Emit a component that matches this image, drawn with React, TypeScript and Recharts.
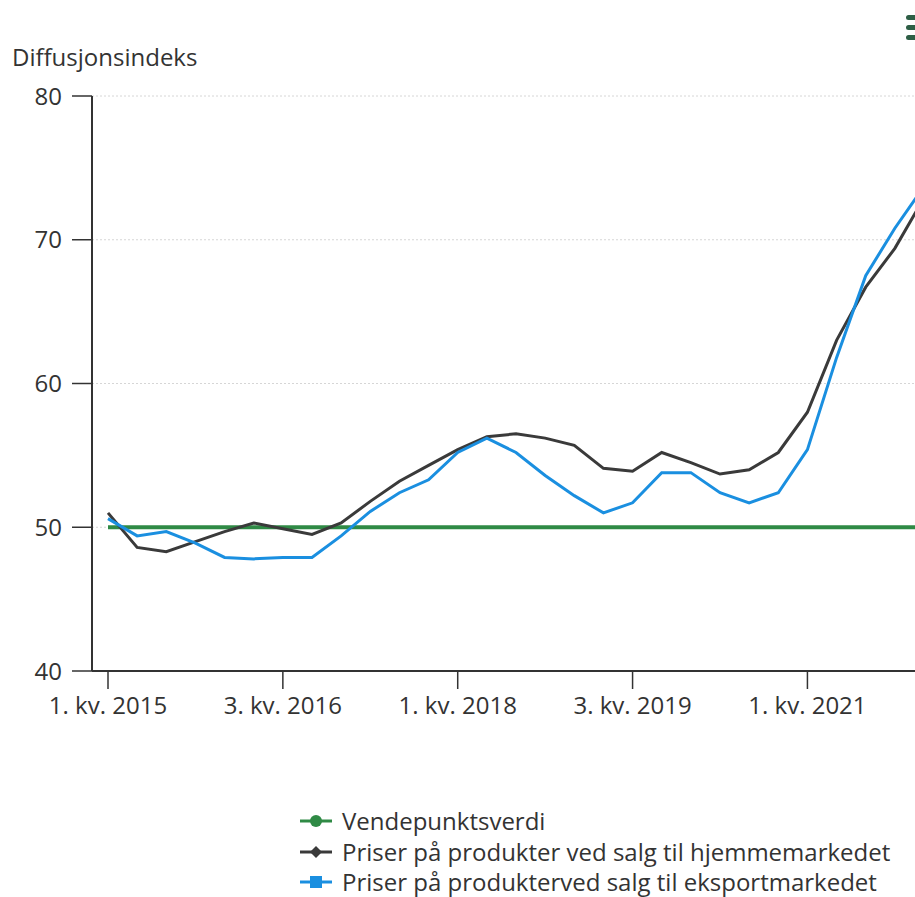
import { LineChart, Line, XAxis, YAxis, CartesianGrid, Legend } from 'recharts';

const quarters = [
  '1. kv. 2015', '2. kv. 2015', '3. kv. 2015', '4. kv. 2015',
  '1. kv. 2016', '2. kv. 2016', '3. kv. 2016', '4. kv. 2016',
  '1. kv. 2017', '2. kv. 2017', '3. kv. 2017', '4. kv. 2017',
  '1. kv. 2018', '2. kv. 2018', '3. kv. 2018', '4. kv. 2018',
  '1. kv. 2019', '2. kv. 2019', '3. kv. 2019', '4. kv. 2019',
  '1. kv. 2020', '2. kv. 2020', '3. kv. 2020', '4. kv. 2020',
  '1. kv. 2021', '2. kv. 2021', '3. kv. 2021', '4. kv. 2021',
  '1. kv. 2022',
];

const vendepunkt = [
  50, 50, 50, 50, 50, 50, 50, 50, 50, 50, 50, 50, 50, 50, 50,
  50, 50, 50, 50, 50, 50, 50, 50, 50, 50, 50, 50, 50, 50,
];

const hjemmemarked = [
  51.0, 48.6, 48.3, 49.0, 49.7, 50.3, 49.9, 49.5, 50.3, 51.8,
  53.2, 54.3, 55.4, 56.3, 56.5, 56.2, 55.7, 54.1, 53.9, 55.2,
  54.5, 53.7, 54.0, 55.2, 58.0, 63.0, 66.7, 69.4, 72.9,
];

const eksportmarked = [
  50.6, 49.4, 49.7, 48.9, 47.9, 47.8, 47.9, 47.9, 49.4, 51.1,
  52.4, 53.3, 55.2, 56.2, 55.2, 53.6, 52.2, 51.0, 51.7, 53.8,
  53.8, 52.4, 51.7, 52.4, 55.4, 61.8, 67.5, 70.8, 73.7,
];

const yTicks = [40, 50, 60, 70, 80];

const data = quarters.map((q, i) => ({
  q,
  vendepunkt: vendepunkt[i],
  hjemme: hjemmemarked[i],
  eksport: eksportmarked[i],
}));

const FONT = '"Open Sans", sans-serif';
const TEXT = '#333333';
const GREEN = '#2f8a45';
const DARK = '#3a3a3a';
const BLUE = '#1a8fe0';

const legendItems = [
  { label: 'Vendepunktsverdi', color: GREEN, marker: 'circle' },
  { label: 'Priser på produkter ved salg til hjemmemarkedet', color: DARK, marker: 'diamond' },
  { label: 'Priser på produkterved salg til eksportmarkedet', color: BLUE, marker: 'square' },
];

function LegendBox() {
  return (
    <div style={{ fontFamily: FONT, fontSize: 24, lineHeight: '26px', color: TEXT }}>
      {legendItems.map((item) => (
        <div key={item.label} style={{ display: 'flex', alignItems: 'center', height: 30.5, whiteSpace: 'nowrap' }}>
          <svg width={32} height={16} style={{ marginRight: 10 }}>
            <line x1={0} y1={8} x2={32} y2={8} stroke={item.color} strokeWidth={3} />
            {item.marker === 'circle' && <circle cx={16} cy={8} r={6} fill={item.color} />}
            {item.marker === 'diamond' && <path d="M16 2 L22 8 L16 14 L10 8 Z" fill={item.color} />}
            {item.marker === 'square' && <rect x={10} y={2} width={12} height={12} fill={item.color} />}
          </svg>
          <span>{item.label}</span>
        </div>
      ))}
    </div>
  );
}

export default function App() {
  return (
    // fixed frame the size of the window, so the chart that runs past the right edge is cut off there
    <div style={{ position: 'fixed', left: 0, top: 0, width: 915, height: 897, overflow: 'hidden', background: '#fff' }}>
      {/* export menu icon, cut off at the right edge */}
      <div style={{ position: 'absolute', left: 906, top: 15 }}>
        {[0, 10, 20].map((t) => (
          <div key={t} style={{ position: 'absolute', top: t, width: 20, height: 5, borderRadius: 3, background: '#2e5e45' }} />
        ))}
      </div>
      <div style={{ position: 'absolute', left: 8, top: 8 }}>
        <LineChart
          width={931}
          height={889}
          data={data}
          margin={{ top: 88, right: 0, bottom: 166, left: 0 }}
        >
          <CartesianGrid vertical={false} stroke="#d6d6d6" strokeDasharray="2 2" />
          <XAxis
            dataKey="q"
            interval={5}
            height={60}
            padding={{ left: 16, right: 15 }}
            tickSize={18}
            tickMargin={8}
            axisLine={{ stroke: TEXT, strokeWidth: 2 }}
            tickLine={{ stroke: TEXT, strokeWidth: 1.5 }}
            tick={{ fill: TEXT, fontSize: 24, fontFamily: FONT }}
          />
          <YAxis
            domain={[40, 80]}
            ticks={yTicks}
            width={84}
            tickSize={20}
            tickMargin={10}
            axisLine={{ stroke: TEXT, strokeWidth: 2 }}
            tickLine={{ stroke: TEXT, strokeWidth: 1.5 }}
            tick={{ fill: TEXT, fontSize: 24, fontFamily: FONT }}
            label={{
              content: () => (
                <text x={4} y={58} fill={TEXT} fontSize={24} fontFamily={FONT}>
                  Diffusjonsindeks
                </text>
              ),
            }}
          />
          <Legend
            layout="vertical"
            align="center"
            verticalAlign="middle"
            wrapperStyle={{ left: 292, top: 798, width: 620 }}
            content={() => <LegendBox />}
          />
          <Line
            type="linear"
            dataKey="vendepunkt"
            name="Vendepunktsverdi"
            stroke={GREEN}
            strokeWidth={4}
            dot={false}
            isAnimationActive={false}
          />
          <Line
            type="linear"
            dataKey="hjemme"
            name="Priser på produkter ved salg til hjemmemarkedet"
            stroke={DARK}
            strokeWidth={3}
            dot={false}
            isAnimationActive={false}
          />
          <Line
            type="linear"
            dataKey="eksport"
            name="Priser på produkterved salg til eksportmarkedet"
            stroke={BLUE}
            strokeWidth={3}
            dot={false}
            isAnimationActive={false}
          />
        </LineChart>
      </div>
    </div>
  );
}
